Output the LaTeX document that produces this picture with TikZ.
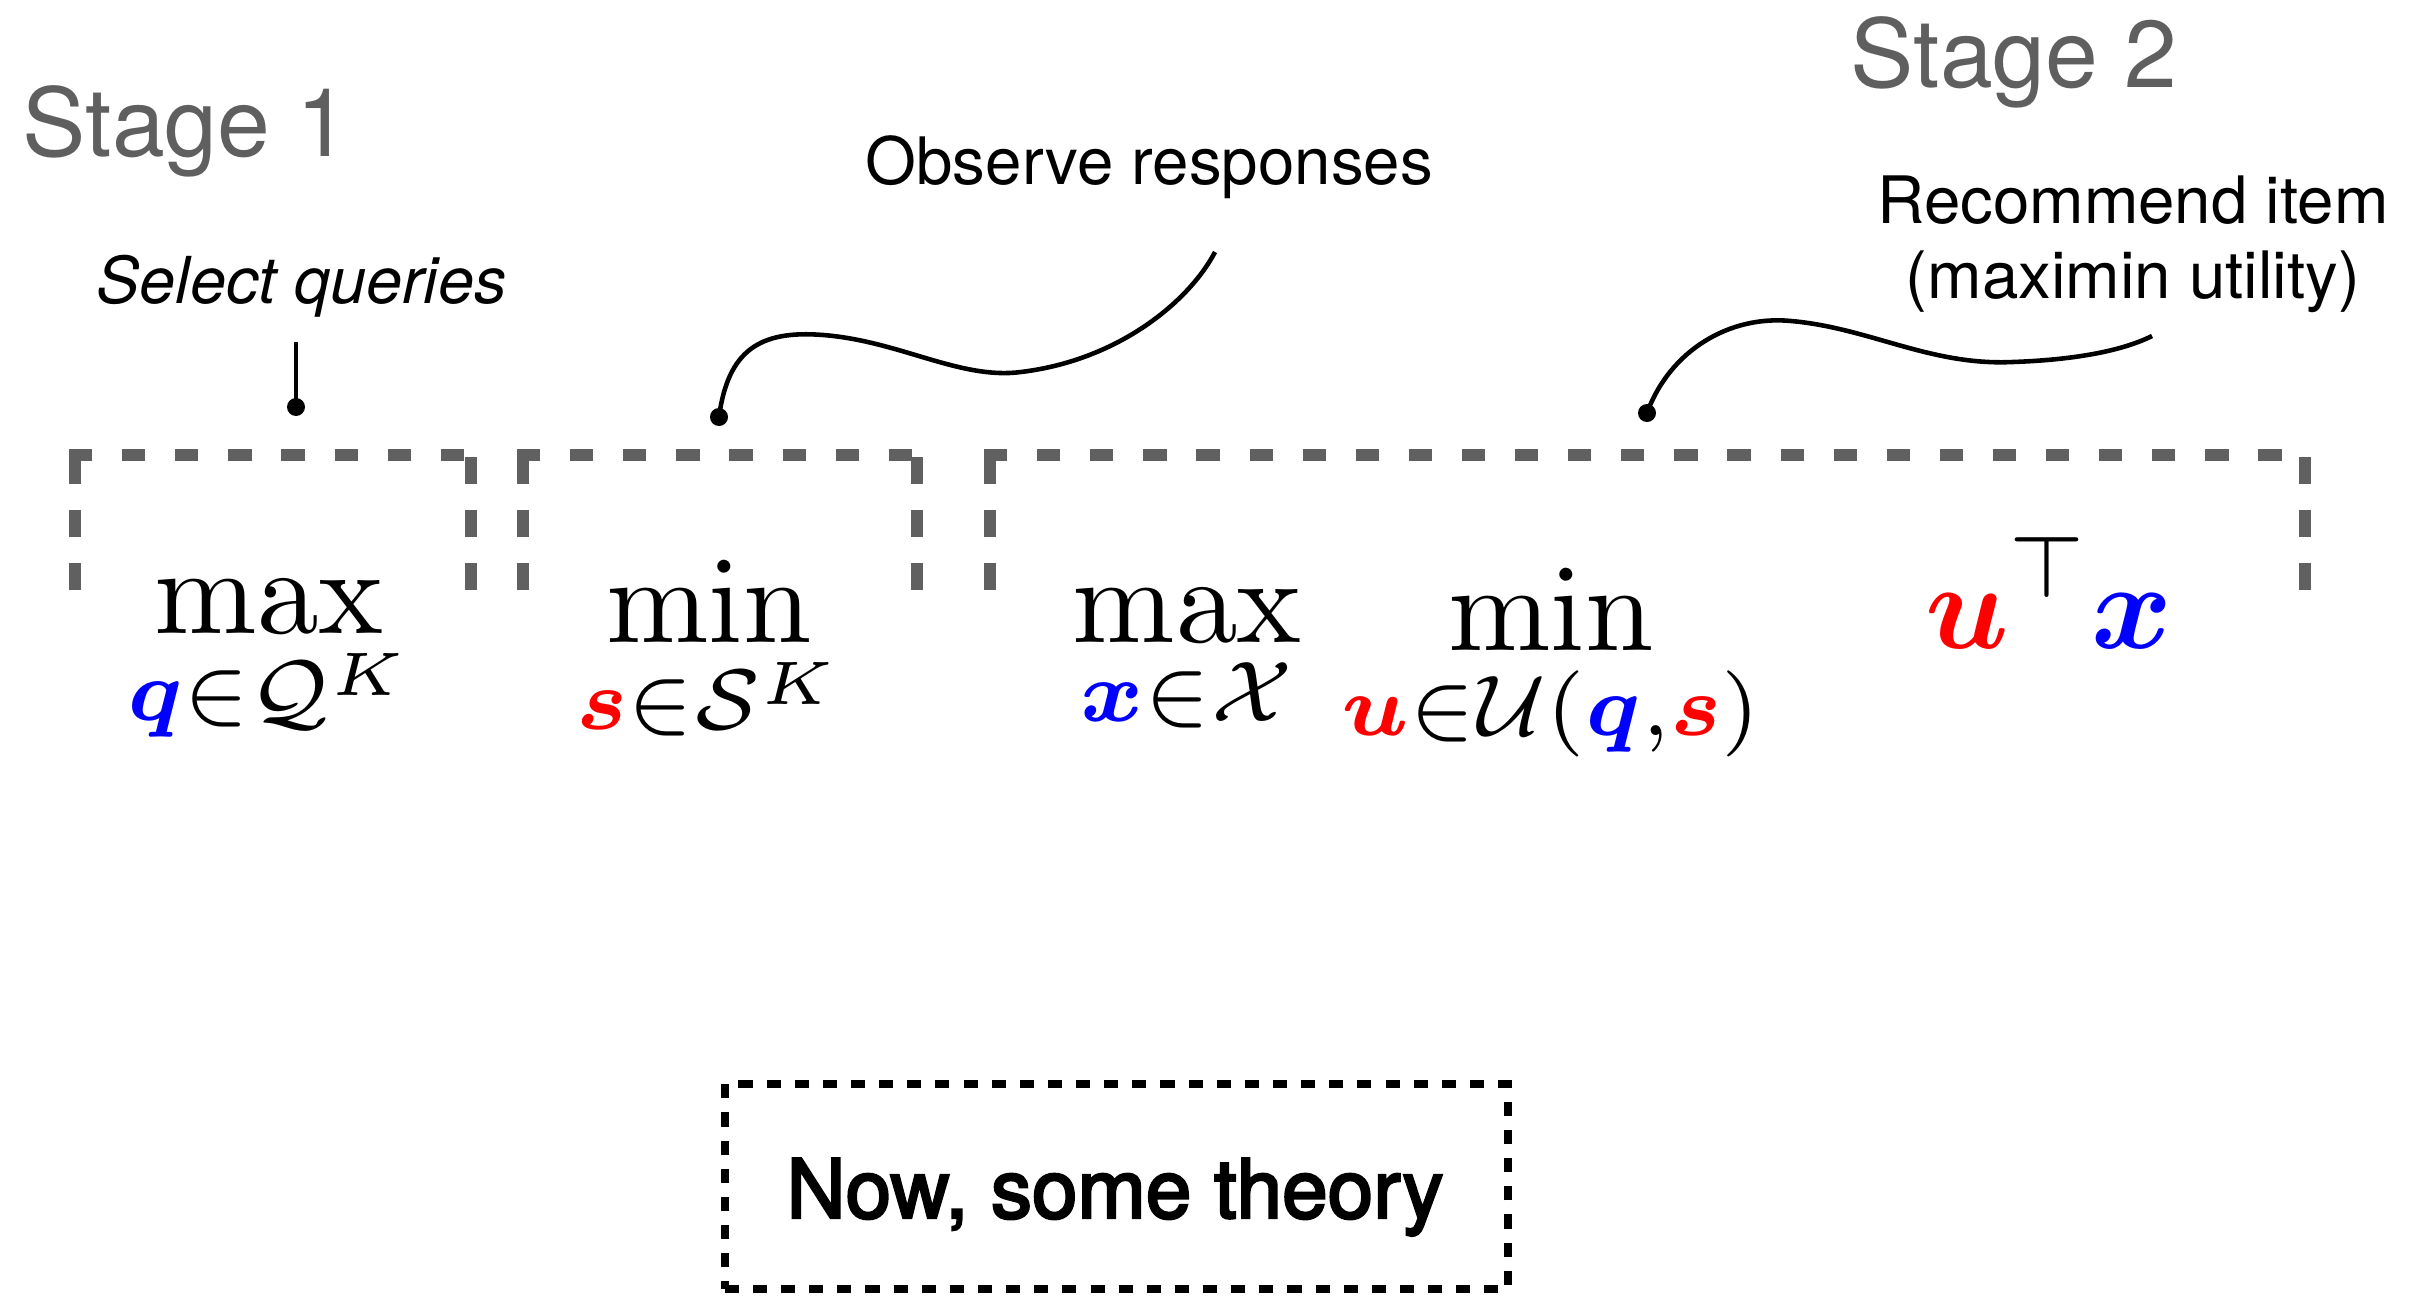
\documentclass[tikz,border=0pt]{standalone}
\usepackage{amsmath,amssymb,bm}
\usepackage[no-math]{fontspec}
\newfontfamily\hv{TeX Gyre Heros}
\newfontfamily\hvmed[FakeBold=3]{TeX Gyre Heros}
\definecolor{stagegray}{HTML}{5F5F5F}
\definecolor{brgray}{HTML}{606060}
\definecolor{qblue}{HTML}{0000FF}
\definecolor{sred}{HTML}{FF0000}
\newcommand{\qq}{\textcolor{qblue}{\bm{q}}}
\newcommand{\ssv}{\textcolor{sred}{\bm{s}}}
\newcommand{\xx}{\textcolor{qblue}{\bm{x}}}
\newcommand{\uu}{\textcolor{sred}{\bm{u}}}
\begin{document}
\begin{tikzpicture}[x=0.01cm,y=-0.01cm,
  stagelbl/.style={font=\hv\fontsize{27}{32}\selectfont, text=stagegray, inner sep=0pt, anchor=base west},
  lbl/.style={font=\hv\fontsize{18.6}{22}\selectfont, inner sep=0pt},
  mathlbl/.style={font=\fontsize{10}{12}\selectfont, scale=3.5, transform shape, inner sep=0pt, anchor=base},
  brleg/.style={draw=brgray, line width=3.5pt, dash pattern=on 7.7pt off 7.4pt},
  brtop/.style={draw=brgray, line width=3.5pt, dash pattern=on 6.6pt off 8.5pt},
  conn/.style={line width=1.3pt},
  dotfill/.style={fill=black}]
\useasboundingbox (0,0) rectangle (2418,1297);

% stage titles
\node[stagelbl] (stage1) at (22,157) {Stage 1};
\node[stagelbl] (stage2) at (1850,88) {Stage 2};

% labels
\node[lbl, anchor=base west, font=\hv\itshape\fontsize{18.4}{22}\selectfont] (sel) at (96,304) {Select queries};
\node[lbl, anchor=base west] (obs) at (865,185) {Observe responses};
\node[lbl, anchor=base] (rec1) at (2133,224) {Recommend item};
\node[lbl, anchor=base] (rec2) at (2133,298) {(maximin utility)};

% brackets: legs drawn from the bottom up, top from left to right
\draw[brleg] (75,590) -- (75,449);
\draw[brleg] (471,590) -- (471,449);
\draw[brtop] (69,455) -- (477,455);
\draw[brleg] (523,590) -- (523,449);
\draw[brleg] (917,590) -- (917,449);
\draw[brtop] (517,455) -- (923,455);
\draw[brleg] (990,590) -- (990,449);
\draw[brleg] (2305,590) -- (2305,449);
\draw[brtop] (984,455) -- (2311,455);

% math
\node[mathlbl] (max1) at (269,633) {$\displaystyle\max_{\qq\in\mathcal{Q}^K}$};
\node[mathlbl] (min1) at (709,642) {$\displaystyle\min_{\ssv\in\mathcal{S}^K}$};
\node[mathlbl] (max2) at (1187,642) {$\displaystyle\max_{\xx\in\mathcal{X}}$};
\node[mathlbl] (min2) at (1551,650) {$\displaystyle\min_{\uu\in\mathcal{U}(\qq,\ssv)}$};
\node[mathlbl] (obj) at (2049,648) {$\displaystyle\uu^{\top}\xx$};

% connectors
\coordinate (s0) at (296,342);
\coordinate (d1) at (296,407);
\draw[conn] (s0) -- (d1);
\fill[dotfill] (d1) circle (9);

\coordinate (d2) at (719,417);
\coordinate (e2) at (1215,252);
\draw[conn] (d2) .. controls (728,350) and (760,330) .. (823,335)
  .. controls (900,341) and (960,380) .. (1021,372)
  .. controls (1120,360) and (1190,300) .. (e2);
\fill[dotfill] (d2) circle (9);

\coordinate (d3) at (1647,413);
\coordinate (e3) at (2152,336);
\draw[conn] (d3) .. controls (1670,350) and (1730,315) .. (1791,321)
  .. controls (1870,328) and (1930,366) .. (2013,362)
  .. controls (2070,360) and (2120,352) .. (e3);
\fill[dotfill] (d3) circle (9);

% theory box
\node[draw=black, line width=2.3pt, dash pattern=on 4pt off 4pt, minimum width=7.83cm, minimum height=2.05cm, inner sep=0pt] (box) at (1116.5,1186.5) {};
\node[font=\hvmed\fontsize{23.3}{28}\selectfont, inner sep=0pt, anchor=base] (theory) at (1115,1218) {Now, some theory};
\end{tikzpicture}
\end{document}
